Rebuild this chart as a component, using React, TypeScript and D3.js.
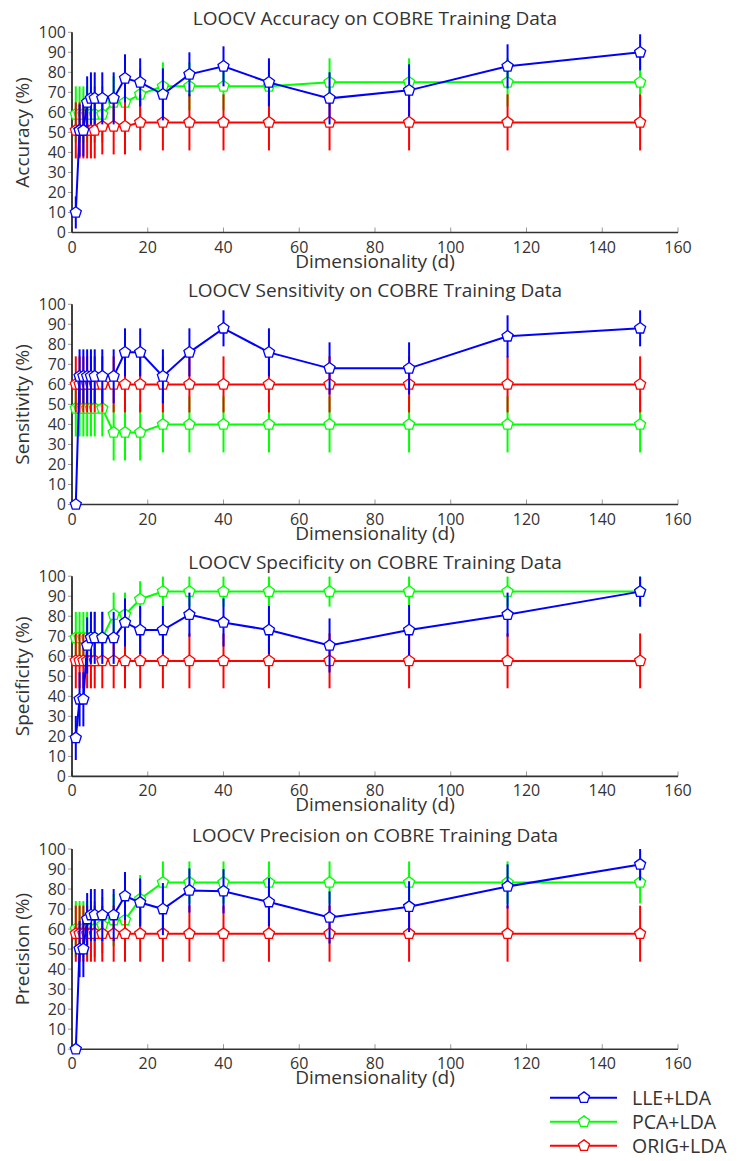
import React from "react";
import * as d3 from "d3";

const dims = [1, 2, 3, 4, 5, 6, 8, 11, 14, 18, 24, 31, 40, 52, 68, 89, 115, 150];
const xTicks = [0, 20, 40, 60, 80, 100, 120, 140, 160];
const yTicks = [0, 10, 20, 30, 40, 50, 60, 70, 80, 90, 100];

const metricNames = ["Accuracy", "Sensitivity", "Specificity", "Precision"];
const methods = ["LLE+LDA", "PCA+LDA", "ORIG+LDA"];

// Accuracy
const accLLE = [10, 51, 51, 65, 67, 67, 67, 67, 77, 75, 69, 79, 83, 75, 67, 71, 83, 90];
const accLLEErr = [8, 13, 13, 13, 13, 13, 13, 13, 12, 12, 13, 11, 10, 12, 13, 13, 11, 9];
const accPCA = [59, 59, 59, 59, 59, 59, 59, 65, 65, 69, 73, 73, 73, 73, 75, 75, 75, 75];
const accPCAErr = [14, 14, 14, 14, 14, 14, 14, 13, 13, 13, 12, 12, 12, 12, 12, 12, 12, 12];
const accORIG = [51, 51, 51, 51, 51, 51, 53, 53, 53, 55, 55, 55, 55, 55, 55, 55, 55, 55];
const accORIGErr = [14, 14, 14, 14, 14, 14, 14, 14, 14, 14, 14, 14, 14, 14, 14, 14, 14, 14];

// Sensitivity
const senLLE = [0, 64, 64, 64, 64, 64, 64, 64, 76, 76, 64, 76, 88, 76, 68, 68, 84, 88];
const senLLEErr = [0, 13.5, 13.5, 13.5, 13.5, 13.5, 13.5, 13.5, 12, 12, 13.5, 12, 9, 12, 13, 13, 10.5, 9];
const senPCA = [48, 48, 48, 48, 48, 48, 48, 36, 36, 36, 40, 40, 40, 40, 40, 40, 40, 40];
const senPCAErr = [14, 14, 14, 14, 14, 14, 14, 14, 14, 14, 14, 14, 14, 14, 14, 14, 14, 14];
const senORIG = [60, 60, 60, 60, 60, 60, 60, 60, 60, 60, 60, 60, 60, 60, 60, 60, 60, 60];
const senORIGErr = [14, 14, 14, 14, 14, 14, 14, 14, 14, 14, 14, 14, 14, 14, 14, 14, 14, 14];

// Specificity
const speLLE = [19.2, 38.5, 38.5, 65.4, 69.2, 69.2, 69.2, 69.2, 76.9, 73.1, 73.1, 80.8, 76.9, 73.1, 65.4, 73.1, 80.8, 92.3];
const speLLEErr = [11, 13.5, 13.5, 14, 13, 13, 13, 13, 12, 12, 12, 11, 12, 12, 13.5, 12.5, 11, 7.5];
const spePCA = [69.2, 69.2, 69.2, 69.2, 69.2, 69.2, 69.2, 80.8, 80.8, 88.5, 92.3, 92.3, 92.3, 92.3, 92.3, 92.3, 92.3, 92.3];
const spePCAErr = [13, 13, 13, 13, 13, 13, 13, 11, 11, 9, 7.5, 7.5, 7.5, 7.5, 7.5, 7.5, 7.5, 7.5];
const speORIG = [57.7, 57.7, 57.7, 57.7, 57.7, 57.7, 57.7, 57.7, 57.7, 57.7, 57.7, 57.7, 57.7, 57.7, 57.7, 57.7, 57.7, 57.7];
const speORIGErr = [13.7, 13.7, 13.7, 13.7, 13.7, 13.7, 13.7, 13.7, 13.7, 13.7, 13.7, 13.7, 13.7, 13.7, 13.7, 13.7, 13.7, 13.7];

// Precision
const preLLE = [0, 50, 50, 65, 67, 67, 67, 67, 76.5, 73.3, 70, 79.3, 78.9, 73.5, 65.8, 71.2, 81.3, 92.3];
const preLLEErr = [0, 14, 14, 13, 13, 13, 13, 13, 12, 12, 13, 11, 11, 12, 13, 12.7, 11, 8];
const prePCA = [60, 60, 60, 60, 60, 60, 62, 64.5, 64.5, 75, 83.3, 83.3, 83.3, 83.3, 83.3, 83.3, 83.3, 83.3];
const prePCAErr = [14, 14, 14, 14, 14, 14, 14, 13, 13, 12, 10.5, 10.5, 10.5, 10.5, 10.5, 10.5, 10.5, 10.5];
const preORIG = [57.7, 57.7, 57.7, 57.7, 57.7, 57.7, 57.7, 57.7, 57.7, 57.7, 57.7, 57.7, 57.7, 57.7, 57.7, 57.7, 57.7, 57.7];
const preORIGErr = [14, 14, 14, 14, 14, 14, 14, 14, 14, 14, 14, 14, 14, 14, 14, 14, 14, 14];

const panelData = [
  { lle: [accLLE, accLLEErr], pca: [accPCA, accPCAErr], orig: [accORIG, accORIGErr] },
  { lle: [senLLE, senLLEErr], pca: [senPCA, senPCAErr], orig: [senORIG, senORIGErr] },
  { lle: [speLLE, speLLEErr], pca: [spePCA, spePCAErr], orig: [speORIG, speORIGErr] },
  { lle: [preLLE, preLLEErr], pca: [prePCA, prePCAErr], orig: [preORIG, preORIGErr] },
];

const COLORS: Record<string, string> = { lle: "#0000ff", pca: "#00ff00", orig: "#ff0000" };
const FONT = "'Open Sans', 'DejaVu Sans', sans-serif";
const TXT = "#333";

const W = 746;
const H = 1161;
const X0 = 72;
const X1 = 678;
const PANEL_TOP = [32.3, 304.3, 576.2, 849];
const PANEL_H = 200.2;

function pentagon(cx: number, cy: number, r: number) {
  const pts: string[] = [];
  for (let i = 0; i < 5; i++) {
    const a = -Math.PI / 2 + (i * 2 * Math.PI) / 5;
    pts.push(`${(cx + r * Math.cos(a)).toFixed(2)},${(cy + r * Math.sin(a)).toFixed(2)}`);
  }
  return `M${pts.join("L")}Z`;
}

function Panel({ idx }: { idx: number }) {
  const top = PANEL_TOP[idx];
  const bottom = top + PANEL_H;
  const x = d3.scaleLinear().domain([0, 160]).range([X0, X1]);
  const y = d3.scaleLinear().domain([0, 100]).range([bottom, top]);
  const data = panelData[idx] as any;
  const order = ["pca", "orig", "lle"];
  const line = d3
    .line<[number, number]>()
    .x((d) => x(d[0]))
    .y((d) => y(d[1]));
  const name = metricNames[idx];
  return (
    <g>
      <text
        x={(X0 + X1) / 2}
        y={top - 7.5}
        textAnchor="middle"
        fontFamily={FONT}
        fontSize={19}
        fill={TXT}
      >
        {`LOOCV ${name} on COBRE Training Data`}
      </text>
      {/* axes */}
      {yTicks.map((t) => (
        <g key={"y" + t}>
          <line x1={X0 - 4} x2={X0} y1={y(t)} y2={y(t)} stroke="#999" strokeWidth={1} />
          <text
            x={X0 - 6}
            y={y(t)}
            dy="0.36em"
            textAnchor="end"
            fontFamily={FONT}
            fontSize={16}
            fill={TXT}
          >
            {t}
          </text>
        </g>
      ))}
      {xTicks.map((t) => (
        <g key={"x" + t}>
          <line x1={x(t)} x2={x(t)} y1={bottom} y2={bottom - 5} stroke="#999" strokeWidth={1} />
          <text
            x={x(t)}
            y={bottom + 20}
            textAnchor="middle"
            fontFamily={FONT}
            fontSize={16}
            fill={TXT}
          >
            {t}
          </text>
        </g>
      ))}
      <line x1={X0} x2={X0} y1={top} y2={bottom} stroke="#111" strokeWidth={1.6} />
      <line x1={X0} x2={X1} y1={bottom} y2={bottom} stroke="#333" strokeWidth={1.6} />
      <text
        x={(X0 + X1) / 2}
        y={bottom + 35}
        textAnchor="middle"
        fontFamily={FONT}
        fontSize={19}
        fill={TXT}
      >
        Dimensionality (d)
      </text>
      <text
        transform={`translate(${29},${(top + bottom) / 2}) rotate(-90)`}
        textAnchor="middle"
        fontFamily={FONT}
        fontSize={19}
        fill={TXT}
      >
        {`${name} (%)`}
      </text>
      {order.map((k) => {
        const [vals, errs] = data[k] as [number[], number[]];
        const pts: [number, number][] = dims.map((d, i) => [d, vals[i]]);
        return (
          <g key={k}>
            {dims.map((d, i) =>
              errs[i] > 0 ? (
                <line
                  key={i}
                  x1={x(d)}
                  x2={x(d)}
                  y1={y(vals[i] - errs[i])}
                  y2={y(Math.min(100, vals[i] + errs[i]))}
                  stroke={COLORS[k]}
                  strokeWidth={2}
                />
              ) : null
            )}
            <path d={line(pts) || ""} fill="none" stroke={COLORS[k]} strokeWidth={2} />
            {pts.map((p, i) => (
              <path
                key={"m" + i}
                d={pentagon(x(p[0]), y(p[1]), 5.8)}
                fill="#fff"
                stroke={COLORS[k]}
                strokeWidth={1.3}
              />
            ))}
          </g>
        );
      })}
    </g>
  );
}

function Legend() {
  const rows = [
    { k: "lle", label: methods[0], y: 1097.7 },
    { k: "pca", label: methods[1], y: 1121.7 },
    { k: "orig", label: methods[2], y: 1145.7 },
  ];
  return (
    <g>
      {rows.map((r) => (
        <g key={r.k}>
          <line x1={550} x2={617} y1={r.y} y2={r.y} stroke={COLORS[r.k]} strokeWidth={2} />
          <path d={pentagon(584, r.y, 5.8)} fill="#fff" stroke={COLORS[r.k]} strokeWidth={1.3} />
          <text
            x={632}
            y={r.y}
            dy="0.36em"
            fontFamily={FONT}
            fontSize={19.5}
            fill={TXT}
          >
            {r.label}
          </text>
        </g>
      ))}
    </g>
  );
}

export default function App() {
  return (
    <svg
      width={W}
      height={H}
      style={{ position: "absolute", left: 0, top: 0, background: "#fff" }}
    >
      <rect x={0} y={0} width={W} height={H} fill="#fff" />
      {[0, 1, 2, 3].map((i) => (
        <Panel key={i} idx={i} />
      ))}
      <Legend />
    </svg>
  );
}
